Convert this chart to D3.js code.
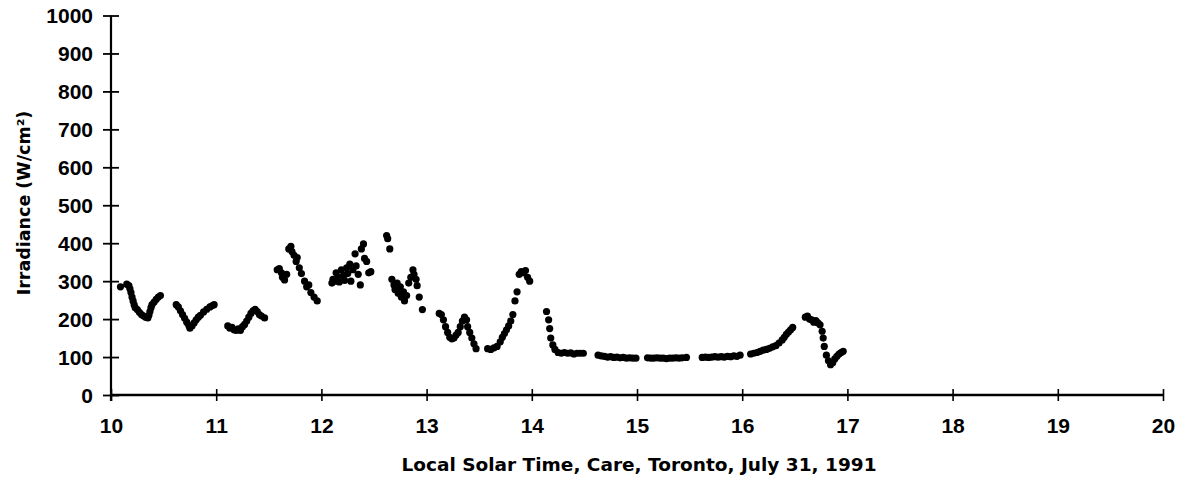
<!DOCTYPE html>
<html>
<head>
<meta charset="utf-8">
<script src="https://cdn.jsdelivr.net/npm/d3@7"></script>
<style>
  html, body { margin: 0; padding: 0; background: #fff; }
  svg { display: block; }
  .tick text { font-family: "Liberation Sans", Arial, sans-serif; font-weight: bold; font-size: 21px; fill: #000; }
  .title { font-family: "DejaVu Sans", sans-serif; font-weight: bold; fill: #000; }
</style>
</head>
<body>
<svg id="chart" width="1188" height="478"></svg>
<script>
// Solar irradiance readings, Care, Toronto, 31 July 1991
const solarTime = [
  10.09, 10.15, 10.17, 10.18, 10.19, 10.20, 10.21, 10.22, 10.23, 10.25, 10.27, 10.29, 10.31, 10.33, 10.35, 10.36, 10.37, 10.38, 10.39, 10.41, 10.43, 10.45, 10.47,
  10.62, 10.64, 10.66, 10.68, 10.70, 10.72, 10.74, 10.75, 10.77, 10.79, 10.81, 10.83, 10.85, 10.88, 10.91, 10.94, 10.96, 10.98,
  11.11, 11.13, 11.15, 11.17, 11.19, 11.21, 11.23, 11.25, 11.27, 11.29, 11.31, 11.33, 11.35, 11.37, 11.39, 11.41, 11.43, 11.46,
  11.58, 11.60, 11.62, 11.63, 11.65, 11.67, 11.69, 11.71, 11.72, 11.74, 11.76, 11.77, 11.79, 11.81, 11.84, 11.86, 11.88, 11.90, 11.93, 11.96,
  12.10, 12.11, 12.13, 12.14, 12.16, 12.17, 12.19, 12.21, 12.22, 12.24, 12.25, 12.27, 12.28, 12.30, 12.32, 12.33, 12.35, 12.37, 12.38, 12.40, 12.41, 12.43, 12.45, 12.47,
  12.62, 12.63, 12.65, 12.67, 12.69, 12.70, 12.72, 12.73, 12.75, 12.76, 12.78, 12.79, 12.81, 12.83, 12.85, 12.87, 12.88, 12.90, 12.91, 12.93, 12.96,
  13.12, 13.14, 13.16, 13.18, 13.20, 13.22, 13.24, 13.26, 13.28, 13.30, 13.32, 13.34, 13.36, 13.38, 13.39, 13.41, 13.43, 13.45, 13.47,
  13.58, 13.61, 13.64, 13.67, 13.70, 13.72, 13.74, 13.76, 13.78, 13.80, 13.82, 13.84, 13.86, 13.88, 13.90, 13.92, 13.94, 13.96, 13.98,
  14.14, 14.16, 14.17, 14.18, 14.20, 14.22, 14.25, 14.28, 14.31, 14.34, 14.37, 14.40, 14.43, 14.46, 14.49,
  14.63, 14.66, 14.69, 14.72, 14.75, 14.78, 14.81, 14.84, 14.87, 14.90, 14.93, 14.96, 14.99,
  15.10, 15.13, 15.16, 15.19, 15.22, 15.25, 15.28, 15.31, 15.34, 15.37, 15.40, 15.43, 15.47,
  15.62, 15.65, 15.68, 15.71, 15.74, 15.77, 15.80, 15.83, 15.86, 15.89, 15.92, 15.95, 15.98,
  16.08, 16.11, 16.14, 16.17, 16.20, 16.23, 16.26, 16.29, 16.32, 16.35, 16.38, 16.40, 16.42, 16.44, 16.46, 16.48,
  16.60, 16.62, 16.64, 16.66, 16.68, 16.70, 16.72, 16.74, 16.76, 16.77, 16.78, 16.80, 16.82, 16.84, 16.86, 16.88, 16.90, 16.92, 16.94, 16.96
];
const irradiance = [
  285, 292, 288, 280, 270, 258, 248, 238, 230, 225, 218, 212, 208, 205, 203, 210, 220, 230, 238, 245, 252, 258, 262,
  238, 232, 222, 212, 202, 192, 183, 176, 182, 190, 198, 205, 210, 219, 226, 232, 235, 238,
  182, 176, 178, 172, 170, 174, 170, 180, 186, 195, 205, 215, 222, 226, 220, 212, 208, 203,
  330, 333, 322, 310, 303, 318, 385, 392, 378, 368, 352, 362, 335, 320, 300, 285, 290, 270, 258, 248,
  295, 305, 300, 322, 310, 298, 330, 315, 302, 335, 320, 345, 300, 330, 372, 340, 318, 290, 385, 398, 360, 352, 322, 325,
  420, 412, 385, 305, 290, 278, 295, 268, 285, 258, 272, 248, 262, 295, 310, 330, 318, 305, 288, 258, 225,
  215, 212, 198, 180, 165, 152, 148, 150, 158, 165, 180, 195, 205, 198, 180, 165, 150, 135, 122,
  122, 120, 124, 128, 140, 152, 162, 172, 182, 195, 212, 248, 272, 318, 325, 322, 328, 310, 300,
  220, 198, 175, 150, 132, 120, 112, 110, 112, 110, 111, 108, 110, 110, 110,
  105, 103, 102, 100, 101, 99, 100, 98, 99, 97, 98, 97, 97,
  98, 97, 97, 98, 97, 97, 96, 97, 97, 98, 97, 98, 99,
  99, 100, 99, 100, 101, 100, 101, 100, 102, 101, 103, 102, 105,
  108, 110, 112, 115, 118, 120, 123, 127, 130, 137, 145, 152, 160, 166, 172, 178,
  205, 208, 200, 198, 192, 196, 190, 185, 168, 150, 128, 105, 90, 80, 85, 95, 102, 108, 112, 115
];
const xTicks = [10, 11, 12, 13, 14, 15, 16, 17, 18, 19, 20];
const yTicks = [0, 100, 200, 300, 400, 500, 600, 700, 800, 900, 1000];

const xTitle = "Local Solar Time, Care, Toronto, July 31, 1991";
const yTitle = "Irradiance (W/cm²)";

const svg = d3.select("#chart");

const x = d3.scaleLinear().domain([10, 20]).range([111, 1163]);
const y = d3.scaleLinear().domain([0, 1000]).range([395, 15.5]);

// Y axis with ticks crossing the axis line
const gy = svg.append("g")
  .attr("transform", `translate(${x(10)},0)`)
  .call(d3.axisLeft(y).tickValues(yTicks).tickFormat(d3.format("d")).tickSizeOuter(0));
gy.select(".domain").attr("stroke", "#000").attr("stroke-width", 2.2)
  .attr("d", `M0,${y(1000)}V${y(0) + 6}`);
gy.selectAll(".tick line").attr("x1", -8).attr("x2", 8).attr("stroke", "#000").attr("stroke-width", 1.8);
gy.selectAll(".tick text").attr("x", -18).attr("dy", "0.35em");

// X axis with ticks crossing the axis line
const gx = svg.append("g")
  .attr("transform", `translate(0,${y(0)})`)
  .call(d3.axisBottom(x).tickValues(xTicks).tickFormat(d3.format("d")).tickSizeOuter(0));
gx.select(".domain").attr("stroke", "#000").attr("stroke-width", 2.4)
  .attr("d", `M${x(10)},0H${x(20)}`);
gx.selectAll(".tick line").attr("y1", -6).attr("y2", 6).attr("stroke", "#000").attr("stroke-width", 1.6);
gx.selectAll(".tick text").attr("y", 38).attr("dy", 0);

// Measurements
svg.append("g")
  .selectAll("circle")
  .data(d3.zip(solarTime, irradiance))
  .join("circle")
  .attr("cx", d => x(d[0]))
  .attr("cy", d => y(d[1]))
  .attr("r", 3.6)
  .attr("fill", "#000");

// Axis titles
svg.append("text")
  .attr("class", "title")
  .attr("x", 639)
  .attr("y", 471)
  .attr("text-anchor", "middle")
  .style("font-size", "18.5px")
  .text(xTitle);

svg.append("text")
  .attr("class", "title")
  .attr("transform", "translate(30,203) rotate(-90)")
  .attr("text-anchor", "middle")
  .style("font-size", "17.5px")
  .text(yTitle);
</script>
</body>
</html>
